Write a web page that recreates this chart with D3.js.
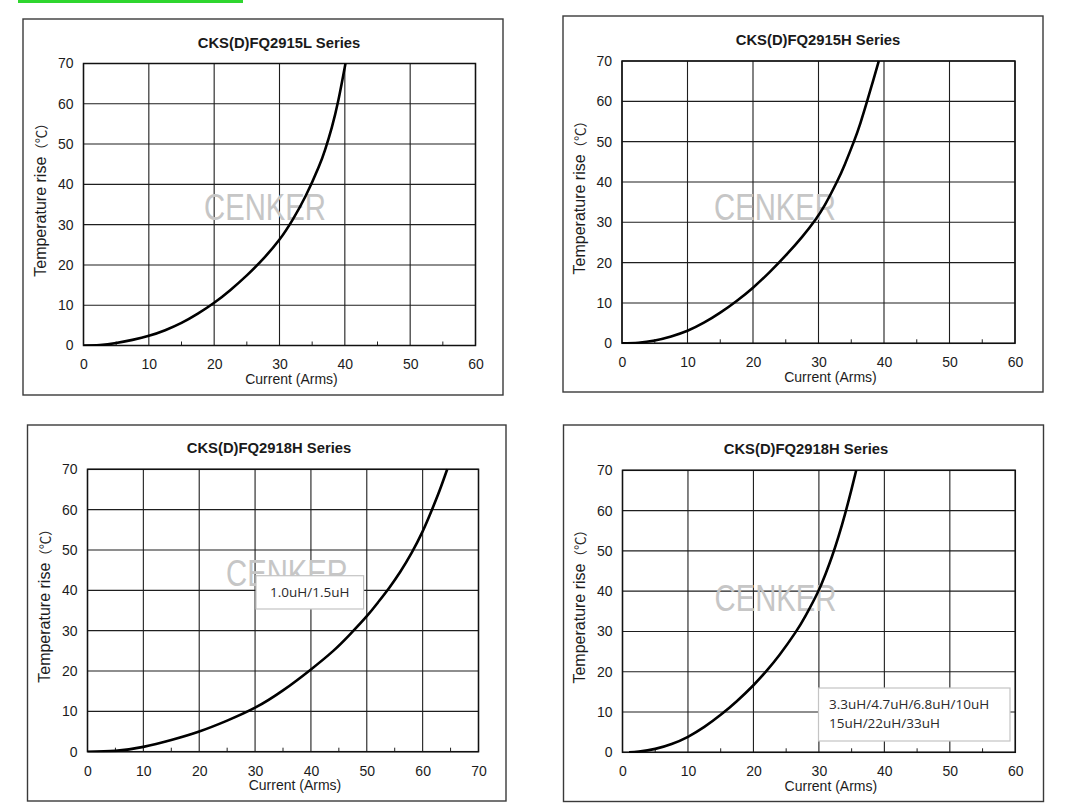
<!DOCTYPE html>
<html>
<head>
<meta charset="utf-8">
<script src="https://cdn.jsdelivr.net/npm/d3@7"></script>
<style>
body{margin:0;background:#fff;}
svg{display:block;}
</style>
</head>
<body>
<div class="chart"></div>
<script>
// curves: [current (A), temperature rise (C)]
var fq2915L = [[0,0],[2.5,0.1],[5,0.6],[7.5,1.4],[10,2.4],[12.5,3.8],[15,5.6],[17.5,7.9],[20,10.6],[22.5,13.8],[25,17.4],[27.5,21.5],[30,26.3],[32,31.2],[34,37.1],[36,44.3],[37,48.7],[38,54.1],[39,60.8],[40.1,70]];
var fq2915H = [[0,0],[2.5,0.15],[5,0.7],[7.5,1.7],[10,3.1],[12.5,5.1],[15,7.6],[17.5,10.5],[20,13.8],[22.5,17.6],[25,21.8],[27.5,26.4],[29.5,30.6],[31,34.4],[32.8,40],[34,44.3],[35.4,50],[36.4,54.6],[37.4,59.9],[38.3,64.9],[39.2,70]];
var fq2918HLow = [[0,0],[5,0.2],[10,1.2],[15,2.9],[20,5.0],[25,7.7],[30,10.9],[35,15.2],[40,20.4],[44,25.0],[47,29.1],[50,33.6],[52,37.0],[54,40.6],[56,44.6],[58,49.2],[60,54.6],[61.5,59.4],[63,64.6],[64.4,70]];
var fq2918HHigh = [[1,0],[2.5,0.2],[5,0.85],[7.5,2.05],[10,3.85],[12.5,6.3],[15,9.3],[17.5,12.75],[20,16.65],[22,20.2],[24,24.2],[26.4,29.7],[28,34.0],[29.8,39.6],[31,44.2],[32,48.6],[33,53.6],[34,59.2],[35,65.4],[35.7,70]];

var series = [fq2915L, fq2915H, fq2918HLow, fq2918HHigh];
var titles = ["CKS(D)FQ2915L Series","CKS(D)FQ2915H Series","CKS(D)FQ2918H Series","CKS(D)FQ2918H Series"];
var xMaxes = [60, 60, 70, 60];
var yTicks = [0,10,20,30,40,50,60,70];
var legends = [[], [], ["1.0uH/1.5uH"], ["3.3uH/4.7uH/6.8uH/10uH","15uH/22uH/33uH"]];
var xLabel = "Current (Arms)";
var yLabel = "Temperature rise";
var yUnit = "\uff08\u2103\uff09";
var watermark = "CENKER";

// where each panel sits on the page
var layout = [
  {frame:[23,19,503,395], x0:83.5, x1:475.5, yb:345.5, yt:63.5, tx:279, wm:[265,208], box:null},
  {frame:[563,16,1043,392], x0:622, x1:1015, yb:343.3, yt:61, tx:818, wm:[775,208], box:null},
  {frame:[27.5,425,506,801], x0:87.5, x1:478.5, yb:751.7, yt:469.3, tx:269, wm:[287,574], box:[256,575.7,363.6,609]},
  {frame:[563.5,425,1043.5,801.5], x0:622.5, x1:1015.3, yb:752.3, yt:470.3, tx:806, wm:[775.5,599], box:[818.5,688,1010,741]}
];

var W = 1078, H = 811;
var svg = d3.select("div.chart")
            .append("svg")
            .attr("width", W)
            .attr("height", H);

var sans = "'Liberation Sans', Arial, sans-serif";

// green strip at the top
svg.append("rect")
   .attr("x", 18).attr("y", 0)
   .attr("width", 225).attr("height", 3)
   .attr("fill", "#2fd62f");

layout.forEach(function(L, i){
  var g = svg.append("g");
  var f = L.frame;

  g.append("rect")
   .attr("x", f[0]).attr("y", f[1])
   .attr("width", f[2]-f[0]).attr("height", f[3]-f[1])
   .attr("fill", "#fff")
   .attr("stroke", "#3a3a3a")
   .attr("stroke-width", 1.4);

  var x = d3.scaleLinear().domain([0, xMaxes[i]]).range([L.x0, L.x1]);
  var y = d3.scaleLinear().domain([0, 70]).range([L.yb, L.yt]);
  var xTicks = d3.range(0, xMaxes[i] + 1, 10);
  var minor = d3.range(5, xMaxes[i], 10);

  // grid
  g.selectAll(".vg").data(xTicks).enter().append("line")
   .attr("x1", function(d){ return x(d); }).attr("x2", function(d){ return x(d); })
   .attr("y1", L.yt).attr("y2", L.yb)
   .attr("stroke", "#1e1e1e").attr("stroke-width", 1.1);
  g.selectAll(".hg").data(yTicks).enter().append("line")
   .attr("x1", L.x0).attr("x2", L.x1)
   .attr("y1", function(d){ return y(d); }).attr("y2", function(d){ return y(d); })
   .attr("stroke", "#1e1e1e").attr("stroke-width", 1.1);
  g.selectAll(".mt").data(minor).enter().append("line")
   .attr("x1", function(d){ return x(d); }).attr("x2", function(d){ return x(d); })
   .attr("y1", L.yb).attr("y2", L.yb - 4)
   .attr("stroke", "#222").attr("stroke-width", 1);
  g.append("rect")
   .attr("x", L.x0).attr("y", L.yt)
   .attr("width", L.x1 - L.x0).attr("height", L.yb - L.yt)
   .attr("fill", "none").attr("stroke", "#111").attr("stroke-width", 1.5);

  // tick labels
  var ax = g.append("g")
            .attr("transform", "translate(0," + L.yb + ")")
            .call(d3.axisBottom(x).tickValues(xTicks).tickSize(0).tickPadding(14));
  var ay = g.append("g")
            .attr("transform", "translate(" + L.x0 + ",0)")
            .call(d3.axisLeft(y).tickValues(yTicks).tickSize(0).tickPadding(10));
  [ax, ay].forEach(function(a){
    a.select(".domain").remove();
    a.selectAll("text")
     .attr("font-family", sans)
     .attr("font-size", 14)
     .attr("fill", "#1c1c1c");
  });

  // watermark
  g.append("text")
   .attr("x", L.wm[0]).attr("y", L.wm[1] + 12)
   .attr("text-anchor", "middle")
   .attr("font-family", sans)
   .attr("font-size", 37)
   .attr("textLength", 122)
   .attr("lengthAdjust", "spacingAndGlyphs")
   .attr("fill", "#c6c6c6")
   .text(watermark);

  // curve
  var clipId = "clip" + i;
  g.append("clipPath").attr("id", clipId)
   .append("rect")
   .attr("x", L.x0).attr("y", L.yt - 1)
   .attr("width", L.x1 - L.x0).attr("height", L.yb - L.yt + 1.5);

  var line = d3.line()
               .x(function(d){ return x(d[0]); })
               .y(function(d){ return y(d[1]); })
               .curve(d3.curveNatural);

  g.append("path")
   .datum(series[i])
   .attr("clip-path", "url(#" + clipId + ")")
   .attr("d", line)
   .attr("fill", "none")
   .attr("stroke", "#000")
   .attr("stroke-width", 2.6);

  // legend box
  if(L.box){
    var b = L.box;
    g.append("rect")
     .attr("x", b[0]).attr("y", b[1])
     .attr("width", b[2]-b[0]).attr("height", b[3]-b[1])
     .attr("fill", "#fff")
     .attr("stroke", "#c4c4c4")
     .attr("stroke-width", 1.2);
    var lines = legends[i];
    g.selectAll(".lg").data(lines).enter().append("text")
     .attr("x", lines.length > 1 ? b[0] + 10.5 : (b[0]+b[2])/2)
     .attr("y", function(d, k){
        return lines.length > 1 ? b[1] + 20.5 + k*19.5 : (b[1]+b[3])/2 + 5;
     })
     .attr("text-anchor", lines.length > 1 ? "start" : "middle")
     .attr("font-family", "'Open Sans', 'Noto Sans', sans-serif")
     .attr("font-size", 13.5)
     .attr("fill", "#2a2a2a")
     .text(function(d){ return d; });
  }

  // titles
  g.append("text")
   .attr("x", L.tx).attr("y", L.yt - 16)
   .attr("text-anchor", "middle")
   .attr("font-family", sans)
   .attr("font-weight", "bold")
   .attr("font-size", 14.8)
   .attr("fill", "#1a1a1a")
   .text(titles[i]);

  g.append("text")
   .attr("x", (L.x0 + L.x1)/2 + 12).attr("y", L.yb + 38.5)
   .attr("text-anchor", "middle")
   .attr("font-family", sans)
   .attr("font-size", 14)
   .attr("fill", "#1c1c1c")
   .text(xLabel);

  var yl = g.append("text")
   .attr("transform", "translate(" + (L.x0 - 37.5) + "," + ((L.yt + L.yb)/2 - 8) + ") rotate(-90)")
   .attr("text-anchor", "middle")
   .attr("font-family", sans)
   .attr("font-size", 16)
   .attr("fill", "#1c1c1c");
  yl.append("tspan").text(yLabel);
  yl.append("tspan")
    .attr("font-family", "'Noto Sans CJK SC', sans-serif")
    .attr("font-size", 13.5)
    .attr("fill", "#2a2a2a")
    .text(yUnit);
});
</script>
</body>
</html>
